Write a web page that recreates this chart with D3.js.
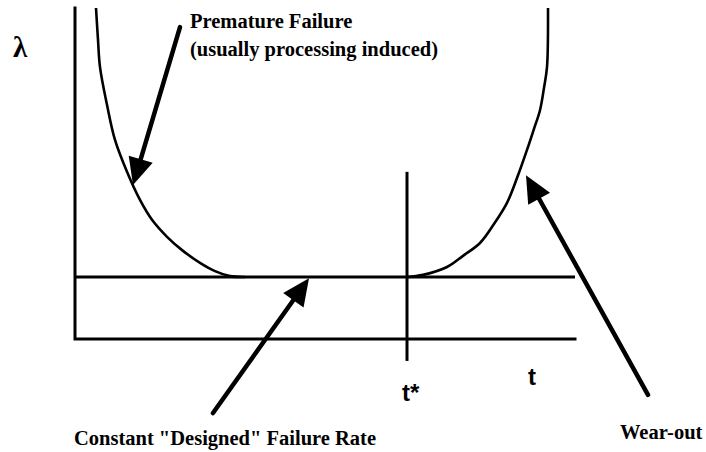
<!DOCTYPE html>
<html>
<head>
<meta charset="utf-8">
<script src="https://cdn.jsdelivr.net/npm/d3@7"></script>
<style>
  html, body { margin: 0; padding: 0; background: #fff; }
  svg { display: block; }
  .serif { font-family: "Liberation Serif", "DejaVu Serif", "Times New Roman", serif; font-weight: bold; }
  .sans { font-family: "Liberation Sans", Arial, sans-serif; font-weight: bold; }
</style>
</head>
<body>
<svg id="chart" width="706" height="452"></svg>
<script>
// ---- data (in chart units) ----
const xDomain = [0, 10];
const yDomain = [0, 8];
const baseRate = 1.5;          // constant "designed" failure rate
const tStar = 6.64;            // onset of wear-out
const tStarSpan = [-0.53, 4.04];

const earlyX = [0.42, 0.46, 0.50, 0.64, 0.80, 1.04, 1.30, 1.54, 1.84, 2.16, 2.50, 2.80, 3.10, 3.40];
const earlyY = [8.00, 7.23, 6.57, 5.66, 4.81, 4.04, 3.36, 2.88, 2.47, 2.13, 1.84, 1.64, 1.52, 1.50];

const wearX = [6.64, 6.96, 7.44, 7.76, 8.10, 8.38, 8.64, 8.84, 9.04, 9.18, 9.30, 9.38, 9.44, 9.46];
const wearY = [1.50, 1.55, 1.74, 2.01, 2.32, 2.78, 3.29, 3.89, 4.57, 5.08, 5.53, 6.07, 6.57, 8.00];

const arrowNames = ["premature", "constant", "wearout"];
const arrowFrom = [[2.10, 7.54], [2.76, -1.79], [11.46, -1.35]];
const arrowTo   = [[1.16, 3.72], [4.68, 1.47], [9.02, 3.96]];

const yLabel = "λ";
const xLabel = "t";
const tStarLabel = "t*";
const prematureLines = ["Premature Failure", "(usually processing induced)"];
const constantLabel = "Constant \"Designed\" Failure Rate";
const wearLabel = "Wear-out";

// ---- scales ----
const x = d3.scaleLinear().domain(xDomain).range([75, 575]);
const y = d3.scaleLinear().domain(yDomain).range([339, 8]);

const svg = d3.select("#chart");
svg.append("rect").attr("width", 706).attr("height", 452).attr("fill", "#fff");

const ink = "#000";

// axes
const axisLine = d3.line().x(d => x(d[0])).y(d => y(d[1]));
svg.append("path")
  .attr("d", axisLine([[xDomain[0], yDomain[1]], [xDomain[0], yDomain[0]], [xDomain[1], yDomain[0]]]))
  .attr("fill", "none").attr("stroke", ink).attr("stroke-width", 3)
  .attr("stroke-linejoin", "miter").attr("stroke-linecap", "square");

// constant failure-rate line
svg.append("line")
  .attr("x1", x(xDomain[0])).attr("x2", x(xDomain[1]))
  .attr("y1", y(baseRate)).attr("y2", y(baseRate))
  .attr("stroke", ink).attr("stroke-width", 3);

// t* marker
svg.append("line")
  .attr("x1", x(tStar)).attr("x2", x(tStar))
  .attr("y1", y(tStarSpan[0])).attr("y2", y(tStarSpan[1]))
  .attr("stroke", ink).attr("stroke-width", 3);

// curves
const curve = d3.line().x(d => x(d[0])).y(d => y(d[1])).curve(d3.curveCatmullRom.alpha(0.5));
const early = earlyX.map((v, i) => [v, earlyY[i]]);
const wear = wearX.map((v, i) => [v, wearY[i]]);
[early, wear].forEach(pts => {
  svg.append("path").attr("d", curve(pts))
    .attr("fill", "none").attr("stroke", ink).attr("stroke-width", 2.6);
});

// arrows
arrowNames.forEach((name, i) => {
  const x0 = x(arrowFrom[i][0]), y0 = y(arrowFrom[i][1]);
  const x1 = x(arrowTo[i][0]), y1 = y(arrowTo[i][1]);
  const dx = x1 - x0, dy = y1 - y0, len = Math.hypot(dx, dy);
  const ux = dx / len, uy = dy / len;
  const headLen = 27, headHalf = 12.5;
  const bx = x1 - ux * headLen, by = y1 - uy * headLen;
  svg.append("line")
    .attr("x1", x0).attr("y1", y0)
    .attr("x2", bx + ux * 2).attr("y2", by + uy * 2)
    .attr("stroke", ink).attr("stroke-width", 4.5).attr("stroke-linecap", "round");
  svg.append("path")
    .attr("d", `M${x1},${y1}L${bx - uy * headHalf},${by + ux * headHalf}L${bx + uy * headHalf},${by - ux * headHalf}Z`)
    .attr("fill", ink);
});

// text
svg.append("text").attr("class", "serif").attr("x", 13).attr("y", 57)
  .style("font-size", "29px").text(yLabel);

prematureLines.forEach((s, i) => {
  svg.append("text").attr("class", "serif").attr("x", 190).attr("y", 28 + i * 28)
    .style("font-size", "20.5px").text(s);
});

svg.append("text").attr("class", "serif").attr("x", 74).attr("y", 445)
  .style("font-size", "20.5px").text(constantLabel);

svg.append("text").attr("class", "serif").attr("x", 620).attr("y", 439)
  .style("font-size", "20.5px").text(wearLabel);

svg.append("text").attr("class", "sans").attr("x", 402).attr("y", 401)
  .style("font-size", "24px").text(tStarLabel);

svg.append("text").attr("class", "sans").attr("x", 528).attr("y", 385)
  .style("font-size", "24px").text(xLabel);
</script>
</body>
</html>
